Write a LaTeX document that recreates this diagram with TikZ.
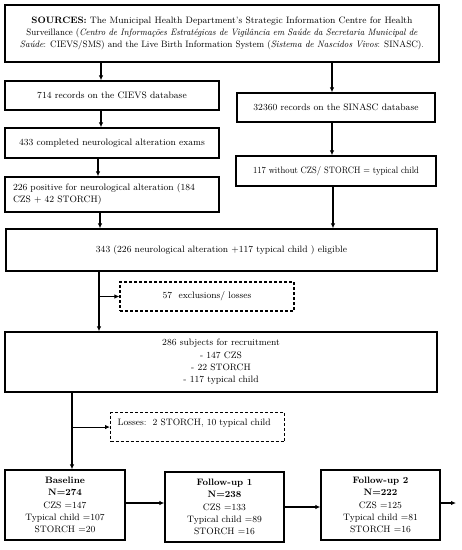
\documentclass[tikz,border=0pt]{standalone}
\usepackage{graphicx}
\usetikzlibrary{arrows.meta}
\newcommand{\fs}{\fontsize{9.3}{12.3}\selectfont}
\newcommand{\fitw}[2]{\resizebox{#1}{\height}{#2}}
\tikzset{
  box/.style={draw, line width=1.3pt, inner sep=2pt, align=center, font=\fs},
  dbox/.style={draw, dashed, dash pattern=on 3pt off 2pt, line width=1.1pt, inner sep=2pt, font=\fs},
  arr/.style={line width=1.1pt, -{Latex[length=5pt,width=4.5pt]}},
  ln/.style={line width=1.1pt}
}
\begin{document}
\begin{tikzpicture}[x=1pt,y=-1pt]
\useasboundingbox (0,0) rectangle (462,550);
\node[box, minimum width=434pt, minimum height=57pt] (src) at (222,33.5)
 {\fitw{381pt}{\textbf{SOURCES:} The Municipal Health Department’s Strategic Information Centre for Health}\\
  \fitw{391pt}{Surveillance (\textit{Centro de Informações Estratégicas de Vigilância em Saúde da Secretaria Municipal de}}\\
  \fitw{404pt}{\textit{Saúde}: CIEVS/SMS) and the Live Birth Information System (\textit{Sistema de Nascidos Vivos}: SINASC).}};
\node[box, minimum width=214pt, minimum height=29pt] (b714) at (112,95.5) {714 records on the CIEVS database};
\node[box, minimum width=214pt, minimum height=30pt] (b433) at (112,143) {433 completed neurological alteration exams};
\node[box, minimum width=214pt, minimum height=35pt, align=left, text width=198pt, inner xsep=8pt] (b226) at (112,194.5)
 {226 positive for neurological alteration (184\\CZS + 42 STORCH)};
\node[box, minimum width=198pt, minimum height=29pt] (b323) at (336,107.5) {32360 records on the SINASC database};
\node[box, minimum width=200pt, minimum height=30pt] (b117) at (336,171) {\fitw{166pt}{117 without CZS/ STORCH = typical child}};
\node[box, minimum width=431pt, minimum height=42pt] (b343) at (221.5,250) {343 (226 neurological alteration +117 typical child ) eligible};
\node[dbox, minimum width=174pt, minimum height=29pt] (d57) at (207,296.5) {57\ \ exclusions/ losses};
\node[box, minimum width=432pt, minimum height=60pt] (b286) at (221,362)
 {286 subjects for recruitment\\- 147 CZS\\- 22 STORCH\\- 117 typical child};
\node[dbox, anchor=north west, text width=160pt, inner xsep=7pt, inner ysep=3pt, text height=10pt, text depth=13pt] (d2) at (110,412)
 {Losses:\ \ 2 STORCH, 10 typical child};
\node[box, minimum width=120pt, minimum height=70pt] (base) at (65,505)
 {\textbf{Baseline}\\\textbf{N=274}\\CZS =147\\Typical child =107\\STORCH =20};
\node[box, minimum width=119pt, minimum height=70pt] (fu1) at (224.5,507)
 {\textbf{Follow-up 1}\\\textbf{N=238}\\CZS =133\\Typical child =89\\STORCH =16};
\node[box, minimum width=119pt, minimum height=70pt] (fu2) at (380.5,505)
 {\textbf{Follow-up 2}\\\textbf{N=222}\\CZS =125\\Typical child =81\\STORCH =16};
\coordinate (xa) at (101,0);
\coordinate (xb) at (98,0);
\coordinate (xc) at (100,0);
\coordinate (xr) at (332,0);
\coordinate (xr2) at (333,0);
\coordinate (xd) at (99,0);
\coordinate (xe) at (72,0);
\coordinate (fend) at (456,503);
\draw[arr] (src.south -| xa) -- (b714.north -| xa);
\draw[arr] (src.south -| xr) -- (b323.north -| xr);
\draw[arr] (b714.south -| xa) -- (b433.north -| xa);
\draw[arr] (b433.south -| xb) -- (b226.north -| xb);
\draw[arr] (b226.south -| xc) -- (b343.north -| xc);
\draw[arr] (b323.south -| xr) -- (b117.north -| xr);
\draw[arr] (b117.south -| xr2) -- (b343.north -| xr2);
\draw[arr] (b343.south -| xd) -- (b286.north -| xd);
\draw[arr] (xd |- d57.west) -- (d57.west);
\draw[arr] (b286.south -| xe) -- (base.north -| xe);
\draw[arr] (xe |- d2.west) -- (d2.west);
\draw[arr] (base.east |- fend) -- (fu1.west |- fend);
\draw[arr] (fu1.east) -- (fu2.west |- fu1.east);
\draw[arr] (fu2.east |- fend) -- (fend);
\end{tikzpicture}
\end{document}
